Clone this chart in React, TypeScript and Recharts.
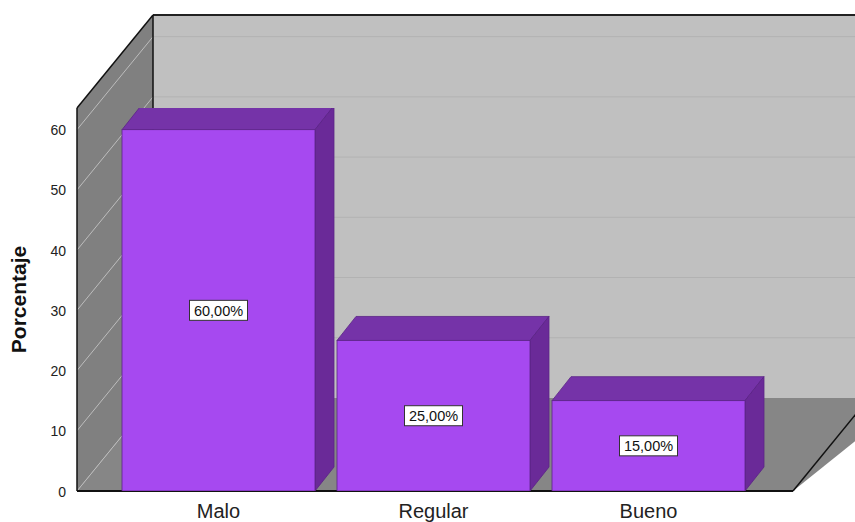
import { BarChart, Bar, XAxis, YAxis, ReferenceArea, LabelList } from 'recharts'

const categories = ['Malo', 'Regular', 'Bueno']
const percentages = [60, 25, 15]
const yTicks = [0, 10, 20, 30, 40, 50, 60]
const Y_MAX = 63.6

const data = categories.map((categoria, i) => ({ categoria, porcentaje: percentages[i] }))

// wall depth and bar depth (SPSS-style 3D)
const DX = 76
const DY = 93
const BDX = 19
const BDY = 24

const FONT = '"Liberation Sans", Arial, sans-serif'

const Walls = (props: any) => {
  const { x, y, width, height } = props
  const left = x - 34
  const right = x + width + 37
  const top = y
  const bottom = y + height
  const toY = (v: number) => bottom - (v / Y_MAX) * height
  return (
    <g>
      <rect x={left + DX} y={top - DY} width={right - left + 40} height={height} fill="#c0c0c0" />
      <polygon
        points={`${left},${top} ${left + DX},${top - DY} ${left + DX},${bottom - DY} ${left},${bottom}`}
        fill="#808080"
      />
      <polygon
        points={`${left},${bottom} ${left + DX},${bottom - DY} ${right + DX + 40},${bottom - DY} ${right},${bottom}`}
        fill="#868686"
      />
      {yTicks.map((t) => (
        <g key={t}>
          {t > 0 && (
            <line x1={left + DX} y1={toY(t) - DY} x2={right + DX + 40} y2={toY(t) - DY} stroke="#b2b2b2" strokeWidth={1} />
          )}
          <line x1={left} y1={toY(t)} x2={left + DX} y2={toY(t) - DY} stroke="#bdbdbd" strokeWidth={1} />
        </g>
      ))}
      <line x1={left} y1={top} x2={left} y2={bottom} stroke="#111" strokeWidth={1.5} />
      <line x1={left} y1={top} x2={left + DX} y2={top - DY} stroke="#111" strokeWidth={1.5} />
      <line x1={left + DX} y1={top - DY} x2={right + DX + 40} y2={top - DY} stroke="#222" strokeWidth={2} />
      <line x1={left + DX} y1={top - DY} x2={left + DX} y2={bottom - DY} stroke="#111" strokeWidth={1.5} />
      <line x1={right} y1={bottom} x2={right + DX} y2={bottom - DY} stroke="#111" strokeWidth={1.5} />
      <line x1={left} y1={bottom} x2={right} y2={bottom} stroke="#111" strokeWidth={2} />
    </g>
  )
}

const Bar3D = (props: any) => {
  const { x, y, width: w, height: h } = props
  return (
    <g stroke="#5b2386" strokeWidth={0.8}>
      <polygon
        points={`${x},${y} ${x + BDX},${y - BDY} ${x + w + BDX},${y - BDY} ${x + w},${y}`}
        fill="#7533a8"
      />
      <polygon
        points={`${x + w},${y} ${x + w + BDX},${y - BDY} ${x + w + BDX},${y + h - BDY} ${x + w},${y + h}`}
        fill="#6a2a98"
      />
      <rect x={x} y={y} width={w} height={h} fill="#a649f0" />
    </g>
  )
}

const ValueLabel = (props: any) => {
  const { x, y, width, height, value } = props
  const cx = x + width / 2
  const cy = y + height / 2
  const text = `${Number(value).toFixed(2).replace('.', ',')}%`
  return (
    <g>
      <rect x={cx - 29} y={cy - 10} width={58} height={20} fill="#ffffff" stroke="#333" strokeWidth={1} />
      <text x={cx} y={cy} dy="0.36em" textAnchor="middle" fontSize={14.5} fontFamily={FONT} fill="#111">
        {text}
      </text>
    </g>
  )
}

const YTick = (props: any) => {
  const { x, y, payload } = props
  return (
    <text x={x - 43} y={y} dy="0.4em" textAnchor="end" fontSize={14} fontFamily={FONT} fill="#222">
      {payload.value}
    </text>
  )
}

const XTick = (props: any) => {
  const { x, y, payload } = props
  return (
    <text x={x} y={y + 25} textAnchor="middle" fontSize={20} fontFamily={FONT} fill="#222">
      {payload.value}
    </text>
  )
}

const YTitle = (props: any) => {
  const { viewBox } = props
  const cy = viewBox.y + viewBox.height / 2
  const cx = 26
  return (
    <text
      x={cx}
      y={cy}
      transform={`rotate(-90, ${cx}, ${cy})`}
      textAnchor="middle"
      fontSize={21}
      fontWeight="bold"
      fontFamily={FONT}
      fill="#111"
    >
      Porcentaje
    </text>
  )
}

export default function App() {
  return (
    <div style={{ width: 855, height: 522, background: '#fff' }}>
      <style>{'body{margin:0}'}</style>
      <BarChart
        width={855}
        height={522}
        data={data}
        margin={{ top: 108, right: 99, left: 0, bottom: 0 }}
      >
        <XAxis
          dataKey="categoria"
          height={31}
          axisLine={false}
          tickLine={false}
          tickSize={0}
          tick={<XTick />}
          interval={0}
        />
        <YAxis
          width={111}
          domain={[0, Y_MAX]}
          ticks={yTicks}
          allowDataOverflow
          axisLine={false}
          tickLine={false}
          tickSize={0}
          tick={<YTick />}
          label={<YTitle />}
        />
        <ReferenceArea y1={0} y2={Y_MAX} ifOverflow="visible" shape={<Walls />} />
        <Bar dataKey="porcentaje" barSize={193} shape={<Bar3D />} isAnimationActive={false}>
          <LabelList dataKey="porcentaje" content={<ValueLabel />} />
        </Bar>
      </BarChart>
    </div>
  )
}
